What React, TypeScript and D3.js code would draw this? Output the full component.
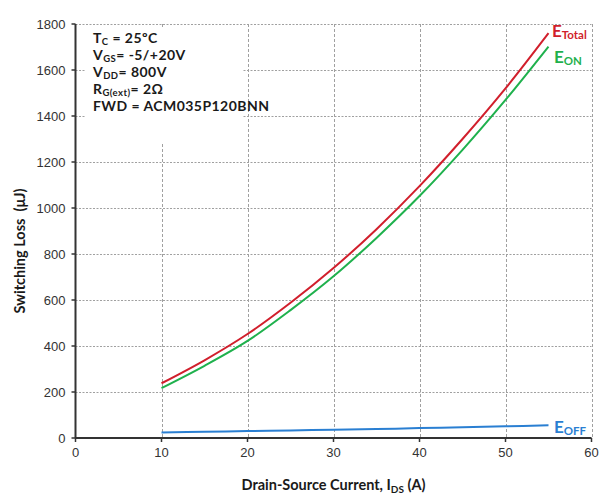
import React from "react";
import * as d3 from "d3";

const currents = [10, 15, 20, 25, 30, 35, 40, 45, 50, 55];
const eTotal = [238, 338, 452, 588, 739, 908, 1095, 1300, 1520, 1760];
const eOn = [217, 314, 422, 556, 703, 870, 1052, 1253, 1470, 1702];
const eOff = [24, 27, 30, 33, 36, 39, 43, 47, 51, 55];
const xTicks = [0, 10, 20, 30, 40, 50, 60];
const yTicks = [0, 200, 400, 600, 800, 1000, 1200, 1400, 1600, 1800];

const W = 604;
const H = 497;
const L = 75.5;
const R = 591.5;
const T = 24;
const B = 438;

export default function App() {
  const x = d3.scaleLinear().domain([0, 60]).range([L, R]);
  const y = d3.scaleLinear().domain([0, 1800]).range([B, T]);
  const line = (vals: number[]) =>
    d3
      .line<number>()
      .x((_, i) => x(currents[i]))
      .y((v) => y(v))
      .curve(d3.curveCatmullRom.alpha(0.5))(vals) as string;

  const tickFont = "'Liberation Sans', Arial, sans-serif";
  const labFont = "Lato, 'Open Sans', sans-serif";
  const red = "#d11f2c";
  const green = "#1fb14d";
  const blue = "#2a7fd2";

  return (
    <svg width={W} height={H} style={{ position: "absolute", left: 0, top: 0 }}>
      <rect width={W} height={H} fill="#fff" />
      {yTicks
        .filter((t) => t > 0)
        .map((t) => (
          <line
            key={"hg" + t}
            x1={L}
            x2={R}
            y1={Math.round(y(t)) + 0.5}
            y2={Math.round(y(t)) + 0.5}
            stroke="#a0a0a0"
            strokeWidth={1}
            strokeDasharray="2,1.5"
          />
        ))}
      {xTicks
        .filter((t) => t > 0)
        .map((t) => (
          <line
            key={"vg" + t}
            x1={Math.round(x(t)) + 0.5}
            x2={Math.round(x(t)) + 0.5}
            y1={T}
            y2={B}
            stroke="#a0a0a0"
            strokeWidth={1}
            strokeDasharray="3,2"
          />
        ))}
      <rect x={85} y={27} width={157} height={116} fill="#fff" />
      <g fontFamily={labFont} fontWeight={700} fontSize={14} letterSpacing={0.45} fill="#1a1a1a">
        <text x={93} y={43}>
          T<tspan fontSize={9.5} dy={2}>C</tspan>
          <tspan dy={-2}> = 25ºC</tspan>
        </text>
        <text x={93} y={60}>
          V<tspan fontSize={9.5} dy={2}>GS</tspan>
          <tspan dy={-2}>= -5/+20V</tspan>
        </text>
        <text x={93} y={77}>
          V<tspan fontSize={9.5} dy={2}>DD</tspan>
          <tspan dy={-2}>= 800V</tspan>
        </text>
        <text x={93} y={94}>
          R<tspan fontSize={9.5} dy={2}>G(ext)</tspan>
          <tspan dy={-2}>= 2Ω</tspan>
        </text>
        <text x={93} y={111}>FWD = ACM035P120BNN</text>
      </g>
      <path d={line(eOff)} fill="none" stroke={blue} strokeWidth={2} />
      <path d={line(eOn)} fill="none" stroke={green} strokeWidth={2} />
      <path d={line(eTotal)} fill="none" stroke={red} strokeWidth={2} />
      <line x1={L} x2={L} y1={T} y2={B} stroke="#333" strokeWidth={2} />
      <line x1={L} x2={R} y1={B} y2={B} stroke="#333" strokeWidth={2} />
      {yTicks.map((t) => (
        <g key={"yt" + t}>
          <line x1={L - 4} x2={L} y1={y(t)} y2={y(t)} stroke="#333" strokeWidth={1.5} />
          <text
            x={L - 10}
            y={y(t) + 4.5}
            textAnchor="end"
            fontFamily={tickFont}
            fontSize={13}
            fill="#333"
          >
            {t}
          </text>
        </g>
      ))}
      {xTicks.map((t) => (
        <g key={"xt" + t}>
          <line x1={x(t)} x2={x(t)} y1={B} y2={B + 4} stroke="#333" strokeWidth={1.5} />
          <text
            x={x(t)}
            y={B + 19}
            textAnchor="middle"
            fontFamily={tickFont}
            fontSize={13}
            fill="#333"
          >
            {t}
          </text>
        </g>
      ))}
      <g fontFamily={labFont} fontWeight={700}>
        <text x={552} y={37} fontSize={17} fill={red}>
          E<tspan fontSize={11.5} dy={2}>Total</tspan>
        </text>
        <text x={554} y={63} fontSize={17} fill={green}>
          E<tspan fontSize={11.5} dy={2}>ON</tspan>
        </text>
        <text x={554} y={433} fontSize={17} fill={blue}>
          E<tspan fontSize={11.5} dy={2}>OFF</tspan>
        </text>
      </g>
      <text
        x={(L + R) / 2}
        y={490}
        textAnchor="middle"
        fontFamily={labFont}
        fontWeight={700}
        fontSize={14.5}
        fill="#1a1a1a"
      >
        Drain-Source Current, I<tspan fontSize={10} dy={3}>DS</tspan>
        <tspan dy={-3}> (A)</tspan>
      </text>
      <text
        transform={`translate(25, ${(T + B) / 2 + 20}) rotate(-90)`}
        textAnchor="middle"
        fontFamily={labFont}
        fontWeight={700}
        fontSize={14.5}
        fill="#1a1a1a"
        style={{ whiteSpace: "pre" }}
      >
        {"Switching Loss  (μJ)"}
      </text>
    </svg>
  );
}
